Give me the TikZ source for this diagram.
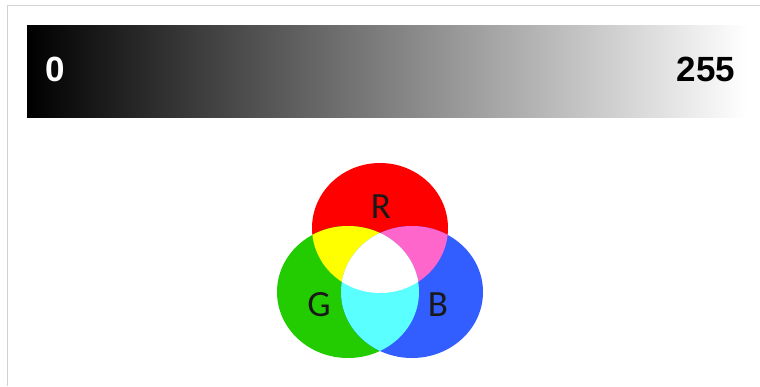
\documentclass[tikz,border=0pt]{standalone}
\usepackage{fontspec}
\setmainfont{Liberation Sans}
\newfontfamily\venfont{Carlito}
\usepackage{xcolor}

\definecolor{rgbred}{RGB}{255,0,0}
\definecolor{rgbgreen}{RGB}{34,204,0}
\definecolor{rgbblue}{RGB}{51,94,255}
\definecolor{rgbyellow}{RGB}{255,255,0}
\definecolor{rgbmagenta}{RGB}{255,102,204}
\definecolor{rgbcyan}{RGB}{90,255,255}
\definecolor{framegray}{RGB}{210,210,210}

\tikzset{
    barlabel/.style={font=\fontsize{35}{35}\selectfont\bfseries, inner sep=0pt},
    venlabel/.style={font=\venfont\fontsize{37}{37}\selectfont, text=black!90, inner sep=0pt}
}

\begin{document}
\begin{tikzpicture}[x=1pt, y=-1pt]
        \useasboundingbox (0,0) rectangle (760,386);
        \draw[framegray, line width=1pt] (7,386) -- (7,5) -- (760,5);

        % grey scale bar
        \shade[left color=black, right color=white] (27,25) rectangle (747,117);
        \node[barlabel, text=white] (low) at (55,69.5) {0};
        \node[barlabel, text=black] (high) at (706,69.5) {255};

        % additive colour circles
        \def\circR{(380,228) ellipse [x radius=68pt, y radius=65pt]}
        \def\circG{(348,292) ellipse [x radius=71pt, y radius=66pt]}
        \def\circB{(412,292) ellipse [x radius=71pt, y radius=66pt]}

        \fill[rgbred] \circR;
        \fill[rgbgreen] \circG;
        \fill[rgbblue] \circB;
        \begin{scope}
            \clip \circR;
            \fill[rgbyellow] \circG;
            \fill[rgbmagenta] \circB;
        \end{scope}
        \begin{scope}
            \clip \circG;
            \fill[rgbcyan] \circB;
            \clip \circB;
            \fill[white] \circR;
        \end{scope}

        \node[venlabel] (red) at (381,207) {R};
        \node[venlabel] (green) at (319,305) {G};
        \node[venlabel] (blue) at (438,305) {B};
    \end{tikzpicture}
\end{document}
